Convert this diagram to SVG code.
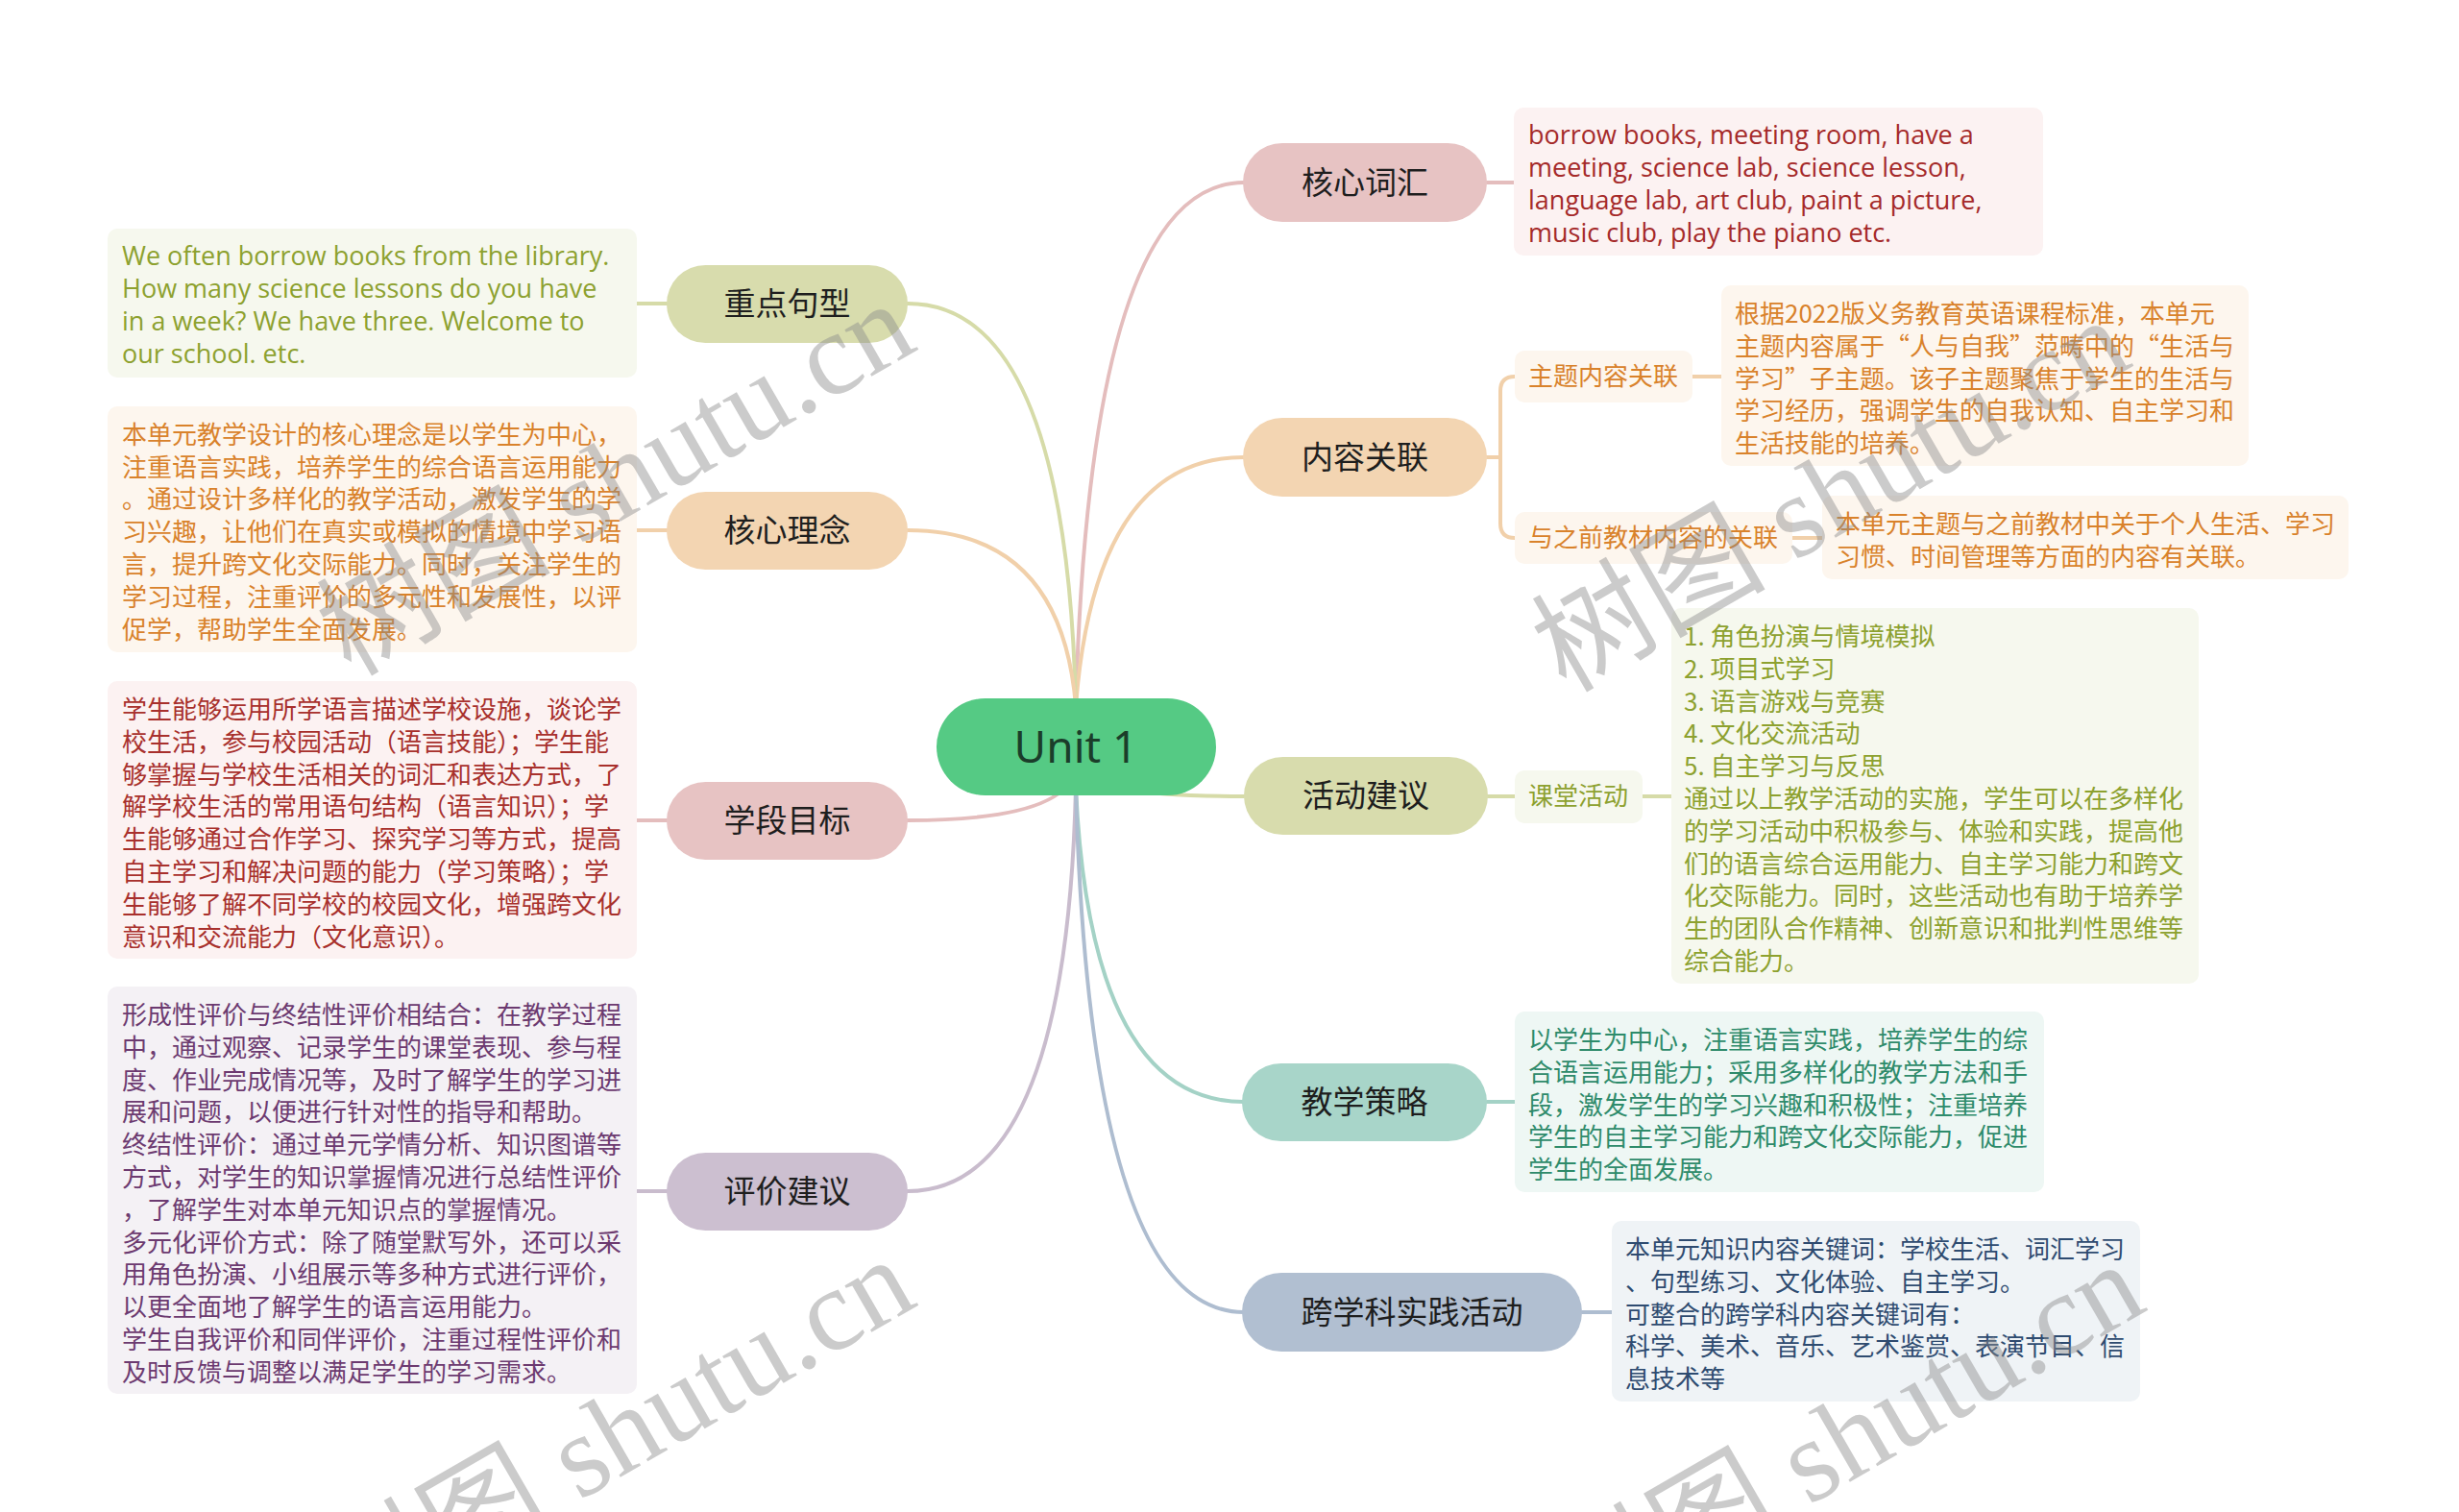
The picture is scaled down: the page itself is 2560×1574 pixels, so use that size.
<svg xmlns="http://www.w3.org/2000/svg" width="2560" height="1574" viewBox="0 0 2560 1574">
<style>
text{font-family:"Noto Sans CJK SC","Noto Sans",sans-serif}
.t{font-size:26px}
.lat{font-family:"Open Sans","Noto Sans CJK SC",sans-serif;font-size:27px}
.pt{font-size:33px;fill:#1e1e1e;text-anchor:middle}
.c{fill:none;stroke-width:4;stroke-linecap:round}
.wm{font-family:"Liberation Serif","Noto Sans CJK SC",serif;font-size:122px;fill:#8c8c8c;fill-opacity:0.45}
</style>
<rect width="2560" height="1574" fill="#ffffff"/>
<g id="connectors">
<path class="c" stroke="#e4bdbd" d="M1120,735 Q1135,190 1295,190"/>
<path class="c" stroke="#f1d0aa" d="M1120,735 Q1140,476 1295,476"/>
<path class="c" stroke="#d6dba8" d="M1120,735 Q1110,316 945,316"/>
<path class="c" stroke="#f1d0aa" d="M1120,735 Q1105,552 945,552"/>
<path class="c" stroke="#e4bdbd" d="M1120,800 Q1110,854 945,854"/>
<path class="c" stroke="#d6dba8" d="M1120,800 Q1135,829 1295,829"/>
<path class="c" stroke="#c9bccd" d="M1120,820 Q1110,1240 945,1240"/>
<path class="c" stroke="#a4d2c6" d="M1120,820 Q1135,1147 1295,1147"/>
<path class="c" stroke="#aebdd0" d="M1120,820 Q1135,1366 1295,1366"/>
<path class="c" stroke="#d6dba8" d="M663,316 H694"/>
<path class="c" stroke="#f1d0aa" d="M663,552 H694"/>
<path class="c" stroke="#e4bdbd" d="M663,854 H694"/>
<path class="c" stroke="#c9bccd" d="M663,1240 H694"/>
<path class="c" stroke="#e4bdbd" d="M1548,190 H1576"/>
<path class="c" stroke="#f1d0aa" d="M1548,476 H1562"/>
<path class="c" stroke="#f1d0aa" d="M1577,392 Q1562,392 1562,407 V545 Q1562,560 1577,560"/>
<path class="c" stroke="#f1d0aa" d="M1762,392 H1792"/>
<path class="c" stroke="#f1d0aa" d="M1866,560 H1897"/>
<path class="c" stroke="#d6dba8" d="M1549,829 H1577"/>
<path class="c" stroke="#d6dba8" d="M1710,829 H1740"/>
<path class="c" stroke="#a4d2c6" d="M1548,1147 H1577"/>
<path class="c" stroke="#aebdd0" d="M1647,1366 H1678"/>
</g>
<g id="root">
<rect x="975" y="727" width="291" height="101" rx="50.5" fill="#55ca84"/>
<text x="1120" y="794" text-anchor="middle" font-size="46" fill="#1b3d2a" style="font-family:'Noto Sans','Open Sans',sans-serif">Unit 1</text>
</g>
<g id="n-zhongdian">
<rect x="694" y="276" width="251" height="81" rx="40.5" fill="#d8dcad"/>
<text class="pt" x="819.5" y="328">重点句型</text>
</g>
<g id="n-zhongdian-d">
<rect x="112" y="238" width="551" height="155" rx="10" fill="#f6f8ee"/>
<text class="lat" fill="#8da12f"><tspan x="127" y="276">We often borrow books from the library.</tspan><tspan x="127" y="310">How many science lessons do you have</tspan><tspan x="127" y="344">in a week? We have three. Welcome to</tspan><tspan x="127" y="378">our school. etc.</tspan></text>
</g>
<g id="n-linian">
<rect x="694" y="512" width="251" height="81" rx="40.5" fill="#f3d5b2"/>
<text class="pt" x="819.5" y="564">核心理念</text>
</g>
<g id="n-linian-d">
<rect x="112" y="423" width="551" height="256" rx="10" fill="#fdf6ee"/>
<text class="t" fill="#d9822b"><tspan x="127" y="462">本单元教学设计的核心理念是以学生为中心，</tspan><tspan x="127" y="496">注重语言实践，培养学生的综合语言运用能力</tspan><tspan x="127" y="529">。通过设计多样化的教学活动，激发学生的学</tspan><tspan x="127" y="563">习兴趣，让他们在真实或模拟的情境中学习语</tspan><tspan x="127" y="597">言，提升跨文化交际能力。同时，关注学生的</tspan><tspan x="127" y="631">学习过程，注重评价的多元性和发展性，以评</tspan><tspan x="127" y="665">促学，帮助学生全面发展。</tspan></text>
</g>
<g id="n-xueduan">
<rect x="694" y="814" width="251" height="81" rx="40.5" fill="#e7c3c3"/>
<text class="pt" x="819.5" y="866">学段目标</text>
</g>
<g id="n-xueduan-d">
<rect x="112" y="709" width="551" height="289" rx="10" fill="#fcf2f2"/>
<text class="t" fill="#a8302c"><tspan x="127" y="748">学生能够运用所学语言描述学校设施，谈论学</tspan><tspan x="127" y="782">校生活，参与校园活动（语言技能）；学生能</tspan><tspan x="127" y="816">够掌握与学校生活相关的词汇和表达方式，了</tspan><tspan x="127" y="849">解学校生活的常用语句结构（语言知识）；学</tspan><tspan x="127" y="883">生能够通过合作学习、探究学习等方式，提高</tspan><tspan x="127" y="917">自主学习和解决问题的能力（学习策略）；学</tspan><tspan x="127" y="951">生能够了解不同学校的校园文化，增强跨文化</tspan><tspan x="127" y="985">意识和交流能力（文化意识）。</tspan></text>
</g>
<g id="n-pingjia">
<rect x="694" y="1200" width="251" height="81" rx="40.5" fill="#ccbfd0"/>
<text class="pt" x="819.5" y="1252">评价建议</text>
</g>
<g id="n-pingjia-d">
<rect x="112" y="1027" width="551" height="424" rx="10" fill="#f4f1f5"/>
<text class="t" fill="#6c3a70"><tspan x="127" y="1066">形成性评价与终结性评价相结合：在教学过程</tspan><tspan x="127" y="1100">中，通过观察、记录学生的课堂表现、参与程</tspan><tspan x="127" y="1134">度、作业完成情况等，及时了解学生的学习进</tspan><tspan x="127" y="1167">展和问题，以便进行针对性的指导和帮助。</tspan><tspan x="127" y="1201">终结性评价：通过单元学情分析、知识图谱等</tspan><tspan x="127" y="1235">方式，对学生的知识掌握情况进行总结性评价</tspan><tspan x="127" y="1269">，了解学生对本单元知识点的掌握情况。</tspan><tspan x="127" y="1303">多元化评价方式：除了随堂默写外，还可以采</tspan><tspan x="127" y="1336">用角色扮演、小组展示等多种方式进行评价，</tspan><tspan x="127" y="1370">以更全面地了解学生的语言运用能力。</tspan><tspan x="127" y="1404">学生自我评价和同伴评价，注重过程性评价和</tspan><tspan x="127" y="1438">及时反馈与调整以满足学生的学习需求。</tspan></text>
</g>
<g id="n-cihui">
<rect x="1294" y="149" width="254" height="82" rx="41" fill="#e7c3c3"/>
<text class="pt" x="1421" y="202">核心词汇</text>
</g>
<g id="n-cihui-d">
<rect x="1576" y="112" width="551" height="154" rx="10" fill="#fcf2f2"/>
<text class="lat" fill="#a52a2a"><tspan x="1591" y="150">borrow books, meeting room, have a</tspan><tspan x="1591" y="184">meeting, science lab, science lesson,</tspan><tspan x="1591" y="218">language lab, art club, paint a picture,</tspan><tspan x="1591" y="252">music club, play the piano etc.</tspan></text>
</g>
<g id="n-guanlian">
<rect x="1294" y="435" width="254" height="82" rx="41" fill="#f3d5b2"/>
<text class="pt" x="1421" y="488">内容关联</text>
</g>
<g id="n-zhuti">
<rect x="1577" y="365" width="185" height="54" rx="10" fill="#fdf6ee"/>
<text class="t" x="1591" y="401" fill="#d9822b">主题内容关联</text>
</g>
<g id="n-zhuti-d">
<rect x="1792" y="297" width="549" height="188" rx="10" fill="#fdf6ee"/>
<text class="t" fill="#d9822b"><tspan x="1806" y="336">根据2022版义务教育英语课程标准，本单元</tspan><tspan x="1806" y="370">主题内容属于“人与自我”范畴中的“生活与</tspan><tspan x="1806" y="404">学习”子主题。该子主题聚焦于学生的生活与</tspan><tspan x="1806" y="437">学习经历，强调学生的自我认知、自主学习和</tspan><tspan x="1806" y="471">生活技能的培养。</tspan></text>
</g>
<g id="n-zhiqian">
<rect x="1577" y="533" width="289" height="54" rx="10" fill="#fdf6ee"/>
<text class="t" x="1591" y="569" fill="#d9822b">与之前教材内容的关联</text>
</g>
<g id="n-zhiqian-d">
<rect x="1897" y="516" width="548" height="87" rx="10" fill="#fdf6ee"/>
<text class="t" fill="#d9822b"><tspan x="1911" y="555">本单元主题与之前教材中关于个人生活、学习</tspan><tspan x="1911" y="589">习惯、时间管理等方面的内容有关联。</tspan></text>
</g>
<g id="n-huodong">
<rect x="1295" y="788" width="254" height="81" rx="40.5" fill="#d8dcad"/>
<text class="pt" x="1422" y="840">活动建议</text>
</g>
<g id="n-ketang">
<rect x="1577" y="802" width="133" height="55" rx="10" fill="#f6f8ee"/>
<text class="t" x="1591" y="838" fill="#8da12f">课堂活动</text>
</g>
<g id="n-ketang-d">
<rect x="1740" y="633" width="549" height="391" rx="10" fill="#f6f8ee"/>
<text class="t" fill="#8da12f"><tspan x="1753" y="672">1. 角色扮演与情境模拟</tspan><tspan x="1753" y="706">2. 项目式学习</tspan><tspan x="1753" y="740">3. 语言游戏与竞赛</tspan><tspan x="1753" y="773">4. 文化交流活动</tspan><tspan x="1753" y="807">5. 自主学习与反思</tspan><tspan x="1753" y="841">通过以上教学活动的实施，学生可以在多样化</tspan><tspan x="1753" y="875">的学习活动中积极参与、体验和实践，提高他</tspan><tspan x="1753" y="909">们的语言综合运用能力、自主学习能力和跨文</tspan><tspan x="1753" y="942">化交际能力。同时，这些活动也有助于培养学</tspan><tspan x="1753" y="976">生的团队合作精神、创新意识和批判性思维等</tspan><tspan x="1753" y="1010">综合能力。</tspan></text>
</g>
<g id="n-celue">
<rect x="1293" y="1107" width="255" height="81" rx="40.5" fill="#a8d5c9"/>
<text class="pt" x="1420.5" y="1159">教学策略</text>
</g>
<g id="n-celue-d">
<rect x="1577" y="1053" width="551" height="188" rx="10" fill="#eef7f4"/>
<text class="t" fill="#2e8b6b"><tspan x="1591" y="1092">以学生为中心，注重语言实践，培养学生的综</tspan><tspan x="1591" y="1126">合语言运用能力；采用多样化的教学方法和手</tspan><tspan x="1591" y="1160">段，激发学生的学习兴趣和积极性；注重培养</tspan><tspan x="1591" y="1193">学生的自主学习能力和跨文化交际能力，促进</tspan><tspan x="1591" y="1227">学生的全面发展。</tspan></text>
</g>
<g id="n-kuaxueke">
<rect x="1293" y="1325" width="354" height="82" rx="41" fill="#b1bfd1"/>
<text class="pt" x="1470" y="1378">跨学科实践活动</text>
</g>
<g id="n-kuaxueke-d">
<rect x="1678" y="1271" width="550" height="188" rx="10" fill="#eff3f6"/>
<text class="t" fill="#2e4b70"><tspan x="1692" y="1310">本单元知识内容关键词：学校生活、词汇学习</tspan><tspan x="1692" y="1344">、句型练习、文化体验、自主学习。</tspan><tspan x="1692" y="1378">可整合的跨学科内容关键词有：</tspan><tspan x="1692" y="1411">科学、美术、音乐、艺术鉴赏、表演节目、信</tspan><tspan x="1692" y="1445">息技术等</tspan></text>
</g>
<g id="watermark">
<text class="wm" transform="translate(365,705) rotate(-30)">树图 shutu.cn</text>
<text class="wm" transform="translate(1630,722) rotate(-30)">树图 shutu.cn</text>
<text class="wm" transform="translate(365,1700) rotate(-30)">树图 shutu.cn</text>
<text class="wm" transform="translate(1645,1705) rotate(-30)">树图 shutu.cn</text>
</g>
</svg>
